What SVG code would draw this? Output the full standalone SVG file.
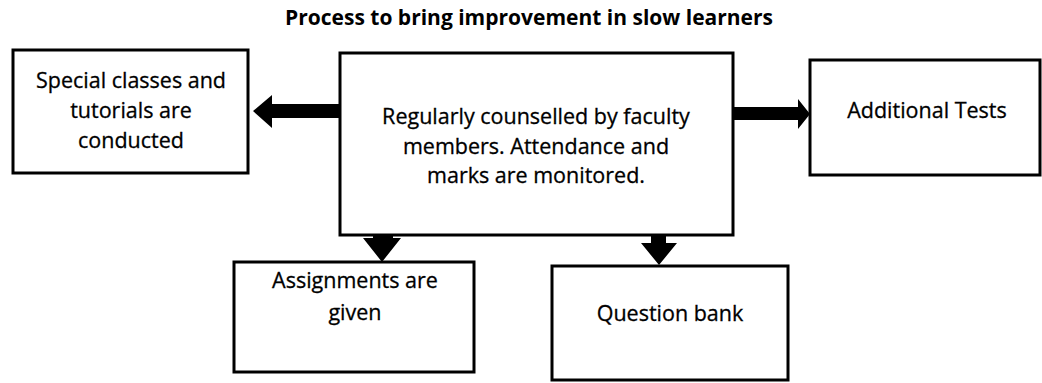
<svg xmlns="http://www.w3.org/2000/svg" width="1042" height="383" viewBox="0 0 1042 383">
<style>
.box{fill:#fff;stroke:#000;stroke-width:3}
.t{font-family:"Open Sans","Liberation Sans",sans-serif;font-size:21.5px;fill:#000;text-anchor:middle;stroke:#000;stroke-width:0.3}
.title{font-family:"Open Sans","Liberation Sans",sans-serif;font-size:21px;font-weight:bold;fill:#000;text-anchor:middle}
.arr{fill:#000}
</style>
<rect width="1042" height="383" fill="#fff"/>
<text class="title" x="529" y="25">Process to bring improvement in slow learners</text>
<g id="connectors">
<polygon class="arr" points="340,104 272,104 272,95 253,111 272,128 272,118 340,118"/>
<polygon class="arr" points="733,107 798,107 798,99 810,114 798,129 798,120 733,120"/>
<polygon class="arr" points="373,207 393,207 393,238 401,238 382,262 363,238 373,238"/>
<polygon class="arr" points="651,207 666,207 666,243 677,243 659,265 641,243 651,243"/>
</g>
<g id="special">
<rect class="box" x="13" y="50" width="235" height="123"/>
<text class="t" x="131" y="88">Special classes and</text>
<text class="t" x="131" y="118">tutorials are</text>
<text class="t" x="131" y="148">conducted</text>
</g>
<g id="counsel">
<rect class="box" x="340" y="53" width="393" height="182"/>
<text class="t" x="536" y="124">Regularly counselled by faculty</text>
<text class="t" x="536" y="154">members. Attendance and</text>
<text class="t" x="536" y="183">marks are monitored.</text>
</g>
<g id="tests">
<rect class="box" x="810" y="60" width="230" height="115"/>
<text class="t" x="927" y="118">Additional Tests</text>
</g>
<g id="assign">
<rect class="box" x="234" y="262" width="240" height="110"/>
<text class="t" x="355" y="288">Assignments are</text>
<text class="t" x="355" y="320">given</text>
</g>
<g id="qbank">
<rect class="box" x="552" y="266" width="236" height="114"/>
<text class="t" x="670" y="321">Question bank</text>
</g>
</svg>
